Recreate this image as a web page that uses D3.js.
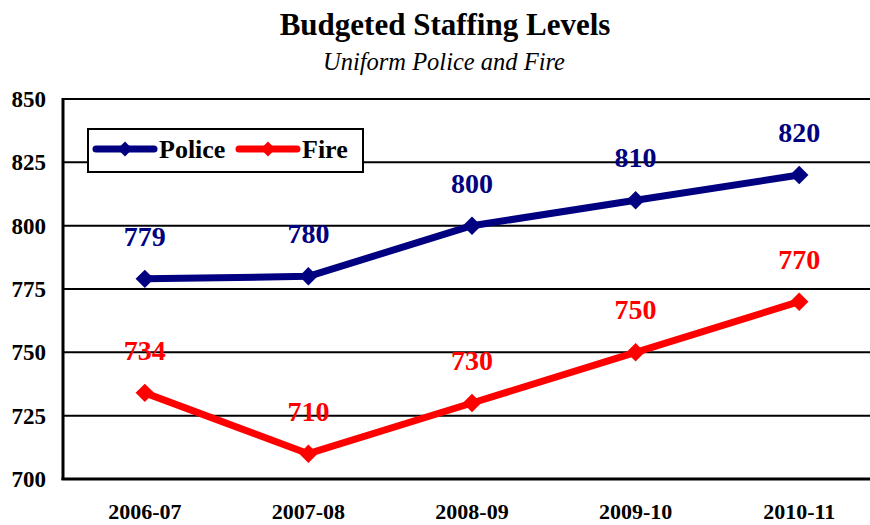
<!DOCTYPE html>
<html>
<head>
<meta charset="utf-8">
<script src="https://cdn.jsdelivr.net/npm/d3@7/dist/d3.min.js"></script>
<style>
  html, body { margin: 0; padding: 0; background: #fff; }
  svg, svg text { font-family: "Liberation Serif", "Times New Roman", serif !important; }
</style>
</head>
<body>
<svg id="chart" width="870" height="525"></svg>
<script>
// Fiscal years and budgeted uniform staffing
const years = ["2006-07", "2007-08", "2008-09", "2009-10", "2010-11"];
const police = [779, 780, 800, 810, 820];
const fire = [734, 710, 730, 750, 770];
const yTicks = [700, 725, 750, 775, 800, 825, 850];

const svg = d3.select("#chart");
const plotLeft = 63, plotTop = 99, plotBottom = 479, plotRight = 881;

const x = d3.scaleBand().domain(years).range([plotLeft, plotRight]);
const y = d3.scaleLinear().domain([700, 850]).range([plotBottom, plotTop]);
const cx = d => x(d) + x.bandwidth() / 2;

// Titles
svg.append("text").attr("x", 445).attr("y", 35).attr("text-anchor", "middle")
  .attr("font-size", 31).attr("font-weight", "bold").text("Budgeted Staffing Levels");
svg.append("text").attr("x", 444).attr("y", 70).attr("text-anchor", "middle")
  .attr("font-size", 24.5).attr("font-style", "italic").text("Uniform Police and Fire");

// Horizontal gridlines
svg.append("g").selectAll("line").data(yTicks.filter(t => t > 700)).join("line")
  .attr("x1", plotLeft).attr("x2", 870).attr("y1", d => y(d)).attr("y2", d => y(d))
  .attr("stroke", "#000").attr("stroke-width", 2);

// Y axis
const yAxis = svg.append("g").attr("transform", `translate(${plotLeft},0)`)
  .call(d3.axisLeft(y).tickValues(yTicks).tickSize(0).tickPadding(17));
yAxis.select(".domain").attr("stroke", "#000").attr("stroke-width", 3)
  .attr("d", `M0,${plotTop - 1}V${plotBottom + 1}`);
yAxis.selectAll("text").style("font-size", "23px").style("font-weight", "bold")
  .attr("fill", "#000");

// X axis
const xAxis = svg.append("g").attr("transform", `translate(0,${plotBottom})`)
  .call(d3.axisBottom(x).tickSize(0).tickPadding(24));
xAxis.select(".domain").attr("stroke", "#000").attr("stroke-width", 3)
  .attr("d", `M${plotLeft - 1.5},0H870`);
xAxis.selectAll("text").style("font-size", "22px").style("font-weight", "bold")
  .attr("fill", "#000");

const series = [
  { name: "Police", values: police, color: "#000080" },
  { name: "Fire", values: fire, color: "#FF0000" }
];

const line = d3.line().x((d, i) => cx(years[i])).y(d => y(d));

series.forEach(s => {
  const g = svg.append("g");
  g.append("path").attr("d", line(s.values)).attr("fill", "none")
    .attr("stroke", s.color).attr("stroke-width", 7).attr("stroke-linejoin", "round");
  g.selectAll("path.m").data(s.values).join("path").attr("class", "m")
    .attr("transform", (d, i) => `translate(${cx(years[i])},${y(d)}) rotate(45)`)
    .attr("d", d3.symbol().type(d3.symbolSquare).size(170)).attr("fill", s.color);
  g.selectAll("text").data(s.values).join("text")
    .attr("x", (d, i) => cx(years[i])).attr("y", d => y(d) - 33)
    .attr("text-anchor", "middle").attr("font-size", 28).attr("font-weight", "bold")
    .attr("fill", s.color).text(d => d);
});

// Legend
const lg = svg.append("g");
lg.append("rect").attr("x", 88).attr("y", 129).attr("width", 275).attr("height", 43)
  .attr("fill", "#fff").attr("stroke", "#000").attr("stroke-width", 2);
const legendItems = [
  { s: series[0], x0: 96, tx: 159 },
  { s: series[1], x0: 239, tx: 302 }
];
legendItems.forEach(it => {
  lg.append("line").attr("x1", it.x0).attr("x2", it.x0 + 58).attr("y1", 149).attr("y2", 149)
    .attr("stroke", it.s.color).attr("stroke-width", 7).attr("stroke-linecap", "round");
  lg.append("path").attr("transform", `translate(${it.x0 + 29},149) rotate(45)`)
    .attr("d", d3.symbol().type(d3.symbolSquare).size(110)).attr("fill", it.s.color);
  lg.append("text").attr("x", it.tx).attr("y", 158).attr("font-size", 26)
    .attr("font-weight", "bold").text(it.s.name);
});
</script>
</body>
</html>
